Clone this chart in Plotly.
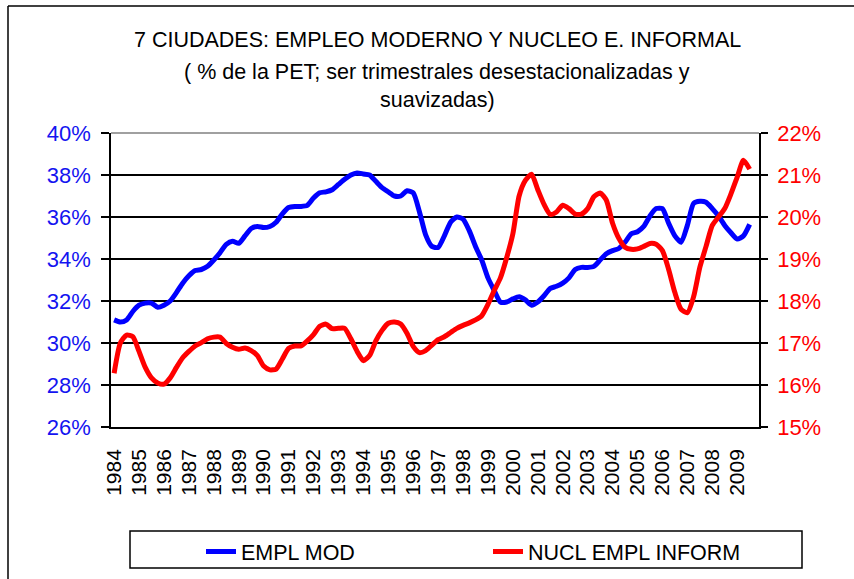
import plotly.graph_objects as go

# Quarterly series, 1984Q1 onwards (% of working-age population)
years = [str(y) for y in range(1984, 2010)]

empl_mod = [31.1, 31.0, 31.1, 31.5, 31.8, 31.9, 31.9, 31.7, 31.8, 32.0,
            32.4, 32.85, 33.2, 33.45, 33.5, 33.65, 33.95, 34.3, 34.7, 34.85,
            34.75, 35.1, 35.45, 35.55, 35.5, 35.55, 35.75, 36.15, 36.45, 36.5,
            36.5, 36.55, 36.9, 37.15, 37.2, 37.3, 37.55, 37.8, 38.0, 38.1,
            38.05, 38.0, 37.7, 37.4, 37.2, 37.0, 37.0, 37.25, 37.15, 36.25,
            35.15, 34.6, 34.55, 35.1, 35.75, 36.0, 35.9, 35.35, 34.6, 33.95,
            33.1, 32.5, 31.95, 31.95, 32.1, 32.2, 32.05, 31.8, 31.95, 32.25,
            32.6, 32.7, 32.85, 33.1, 33.5, 33.6, 33.6, 33.65, 33.95, 34.25,
            34.4, 34.5, 34.8, 35.2, 35.3, 35.55, 36.05, 36.4, 36.4, 35.7,
            35.1, 34.8, 35.6, 36.65, 36.75, 36.7, 36.4, 36.05, 35.6, 35.25,
            34.95, 35.1, 35.65]

nucl_inform = [16.28, 17.0, 17.19, 17.15, 16.8, 16.42, 16.17, 16.05, 16.02, 16.17,
               16.42, 16.65, 16.8, 16.93, 17.01, 17.1, 17.14, 17.14, 16.99, 16.9,
               16.85, 16.88, 16.82, 16.7, 16.45, 16.36, 16.38, 16.62, 16.87, 16.93,
               16.93, 17.05, 17.2, 17.4, 17.45, 17.34, 17.35, 17.35, 17.1, 16.8,
               16.58, 16.7, 17.05, 17.3, 17.47, 17.5, 17.45, 17.23, 16.92, 16.77,
               16.82, 16.95, 17.08, 17.15, 17.25, 17.35, 17.42, 17.48, 17.55, 17.65,
               17.92, 18.25, 18.55, 19.03, 19.6, 20.5, 20.87, 21.02, 20.65, 20.3,
               20.06, 20.12, 20.28, 20.2, 20.07, 20.07, 20.2, 20.48, 20.57, 20.4,
               19.85, 19.49, 19.28, 19.23, 19.24, 19.3, 19.37, 19.35, 19.2, 18.75,
               18.2, 17.8, 17.72, 18.1, 18.8, 19.3, 19.8, 20.0, 20.2, 20.55,
               20.95, 21.35, 21.14]

quarters_per_year = 4
n_slots = len(years) * quarters_per_year
q_emp = list(range(len(empl_mod)))
q_inf = list(range(len(nucl_inform)))

FONT = "Liberation Sans, Arial, sans-serif"
W, H = 854, 579
L, R, T, B = 111, 759, 133, 427


def px(x):
    return (x - L) / (R - L)


def py(y):
    return (B - y) / (B - T)


fig = go.Figure()
fig.add_trace(go.Scatter(
    x=q_emp, y=empl_mod, name="EMPL MOD", mode="lines",
    line=dict(color="#0000ff", width=5, shape="spline", smoothing=0.6),
    xaxis="x", yaxis="y"))
fig.add_trace(go.Scatter(
    x=q_inf, y=nucl_inform, name="NUCL EMPL INFORM", mode="lines",
    line=dict(color="#ff0000", width=5, shape="spline", smoothing=0.6),
    xaxis="x", yaxis="y2"))

year_pos = [i * quarters_per_year for i in range(len(years))]
bounds = [i * quarters_per_year - 0.5 for i in range(len(years) + 1)]

fig.update_layout(
    width=W, height=H,
    margin=dict(l=L, r=W - R, t=T, b=H - B, autoexpand=False),
    paper_bgcolor="white", plot_bgcolor="white",
    font=dict(family=FONT, size=21, color="black"),
    showlegend=True,
    xaxis=dict(
        range=[-0.5, n_slots - 0.5], tickmode="array",
        tickvals=year_pos, ticktext=years, tickangle=-90,
        ticks="", showgrid=False, zeroline=False,
        showline=True, linecolor="black", linewidth=1.5,
        tickfont=dict(size=21, color="black"), ticklabelstandoff=12),
    xaxis2=dict(
        range=[-0.5, n_slots - 0.5], overlaying="x", anchor="y",
        tickmode="array", tickvals=bounds, showticklabels=False,
        ticks="outside", ticklen=7, tickwidth=1.5, tickcolor="black",
        showgrid=False, zeroline=False, showline=False),
    yaxis=dict(
        range=[26, 40], dtick=2, ticksuffix="%",
        ticks="outside", ticklen=8, tickwidth=1.5, tickcolor="black",
        showgrid=True, gridcolor="black", gridwidth=1.5,
        zeroline=False, showline=True, linecolor="black", linewidth=1.5,
        tickfont=dict(size=22, color="#1414f0"), ticklabelstandoff=6),
    yaxis2=dict(
        range=[15, 22], dtick=1, ticksuffix="%", overlaying="y",
        side="right", anchor="x",
        ticks="outside", ticklen=7, tickwidth=1.5, tickcolor="black",
        showgrid=False, zeroline=False,
        showline=True, linecolor="black", linewidth=1.5,
        tickfont=dict(size=22, color="#ff0000"), ticklabelstandoff=5),
    legend=dict(
        orientation="h", x=px(201), y=py(531), xanchor="left", yanchor="top",
        entrywidth=242, bgcolor="rgba(0,0,0,0)", borderwidth=0,
        font=dict(size=21.5, color="black")),
)

# title lines
title_lines = [
    ("7 CIUDADES: EMPLEO MODERNO Y NUCLEO E. INFORMAL", 40),
    ("( % de la PET; ser trimestrales desestacionalizadas y", 72),
    ("suavizadas)", 100),
]
for txt, yy in title_lines:
    fig.add_annotation(text=txt, xref="paper", yref="paper",
                       x=px(437), y=py(yy), xanchor="center", yanchor="middle",
                       showarrow=False, font=dict(size=21.5, color="black"))

# plot-area top edge, chart frame and legend frame
fig.add_shape(type="line", xref="paper", yref="paper", x0=0, x1=1, y0=1, y1=1,
              line=dict(color="#808080", width=1.5))
fig.add_shape(type="line", xref="paper", yref="paper",
              x0=px(8), x1=px(W + 5), y0=py(6), y1=py(6),
              line=dict(color="black", width=1.5))
fig.add_shape(type="line", xref="paper", yref="paper",
              x0=px(8), x1=px(8), y0=py(6), y1=py(H + 5),
              line=dict(color="black", width=1.5))
fig.add_shape(type="rect", xref="paper", yref="paper",
              x0=px(130), x1=px(802), y0=py(531), y1=py(568),
              line=dict(color="black", width=1.5))

fig.write_html("out.html")
